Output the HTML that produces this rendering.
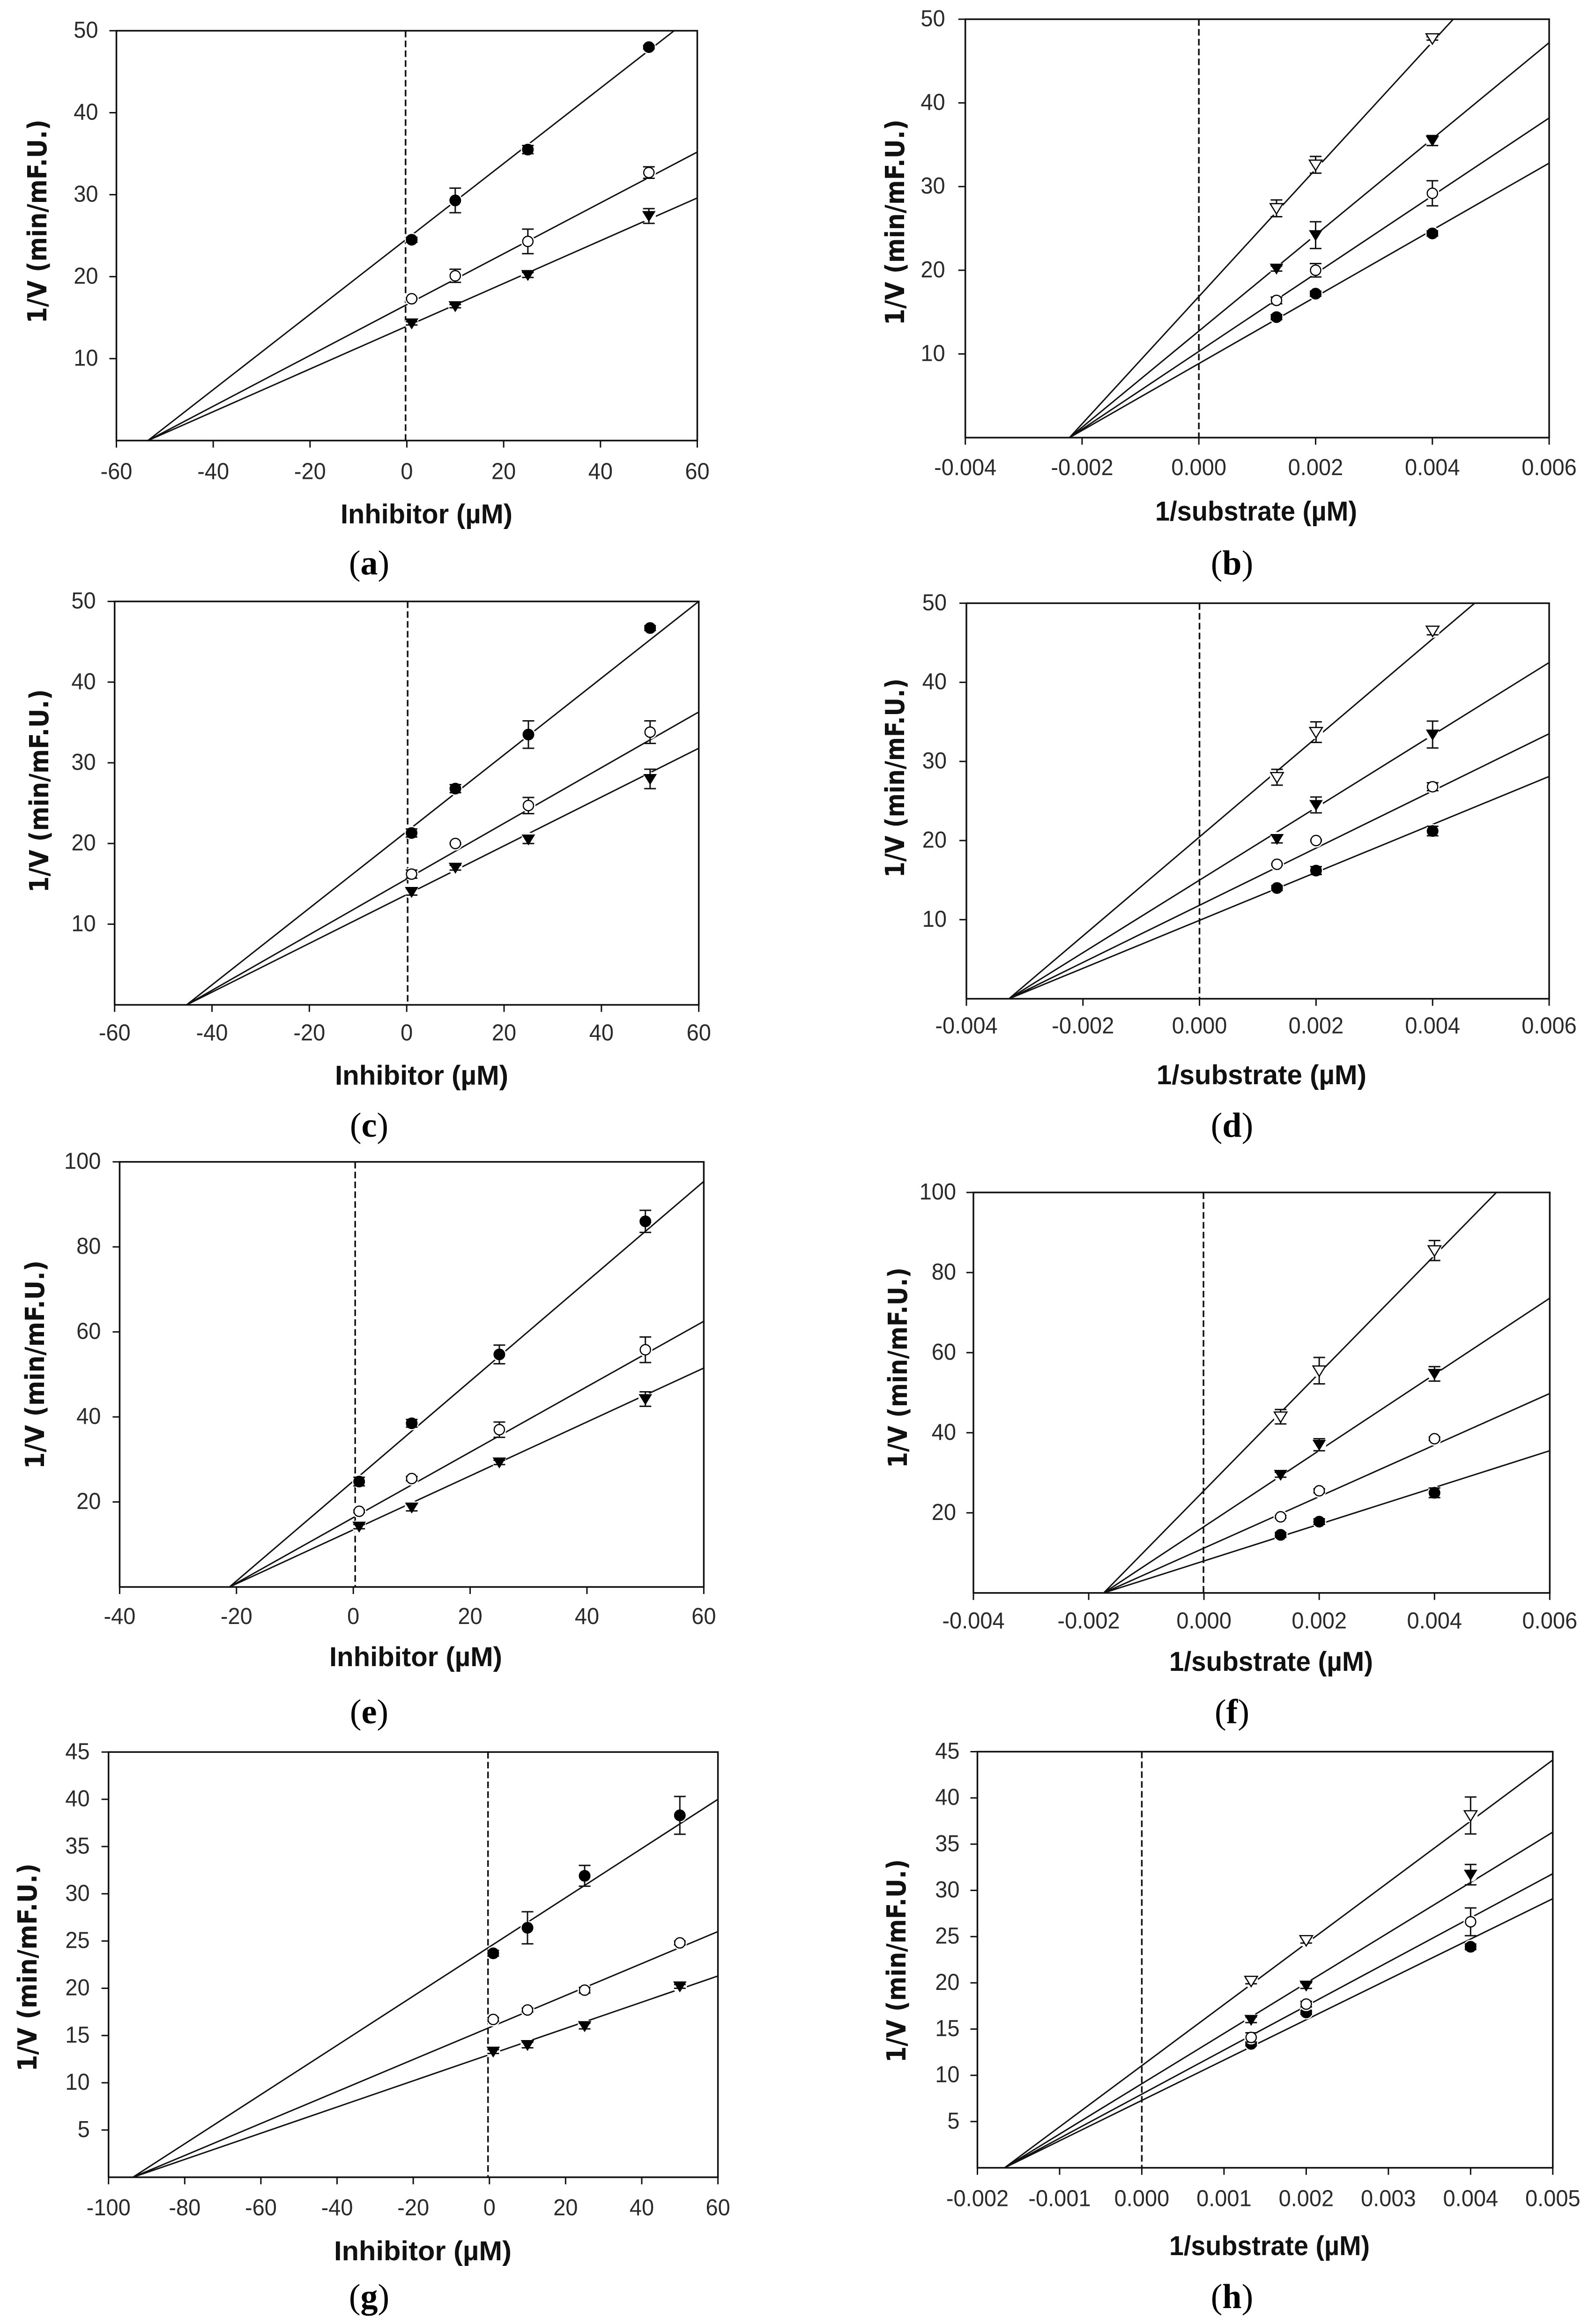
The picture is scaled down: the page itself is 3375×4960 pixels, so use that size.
<!DOCTYPE html>
<html lang="en">
<head>
<meta charset="utf-8">
<title>Enzyme inhibition kinetics, panels a to h</title>
<style>
  html, body { margin: 0; padding: 0; background: #fff; }
  #figure { display: block; width: 3375px; height: 4960px; background: #fff; }
  .tick-label { font-family: "Liberation Sans", Arial, sans-serif; font-size: 49px; fill: #2a2a2a; }
  .x-axis-title { font-family: "Liberation Sans", Arial, sans-serif; font-weight: 700; font-size: 58px; fill: #111; white-space: pre; }
  .y-axis-title { font-family: "DejaVu Sans", "Liberation Sans", sans-serif; font-weight: 700; font-size: 56px; fill: #111; white-space: pre; }
  .caption { font-family: "Liberation Serif", "Times New Roman", serif; font-size: 74px; fill: #000; }
</style>
</head>
<body>
<svg id="figure" xmlns="http://www.w3.org/2000/svg" width="3375" height="4960" viewBox="0 0 3375 4960">
  <text class="caption" x="788" y="1226" text-anchor="middle">(<tspan font-weight="700">a</tspan>)</text>
  <text class="caption" x="2630" y="1226" text-anchor="middle">(<tspan font-weight="700">b</tspan>)</text>
  <text class="caption" x="788" y="2426" text-anchor="middle">(<tspan font-weight="700">c</tspan>)</text>
  <text class="caption" x="2630" y="2426" text-anchor="middle">(<tspan font-weight="700">d</tspan>)</text>
  <text class="caption" x="788" y="3678" text-anchor="middle">(<tspan font-weight="700">e</tspan>)</text>
  <text class="caption" x="2630" y="3678" text-anchor="middle">(<tspan font-weight="700">f</tspan>)</text>
  <text class="caption" x="788" y="4926" text-anchor="middle">(<tspan font-weight="700">g</tspan>)</text>
  <text class="caption" x="2630" y="4926" text-anchor="middle">(<tspan font-weight="700">h</tspan>)</text>
</svg>
<script>
// Shared categories
const inhibitorDoses = [1, 10, 25, 50];
const substrateInverse = [0.00133, 0.002, 0.004];

// Shared tick labels
const yTicks50 = ['10', '20', '30', '40', '50'];
const yTicks100 = ['20', '40', '60', '80', '100'];
const yTicks45 = ['5', '10', '15', '20', '25', '30', '35', '40', '45'];
const xTicksInhibitor60 = ['-60', '-40', '-20', '0', '20', '40', '60'];
const xTicksInhibitor40 = ['-40', '-20', '0', '20', '40', '60'];
const xTicksInhibitor100 = ['-100', '-80', '-60', '-40', '-20', '0', '20', '40', '60'];
const xTicksSubstrate6 = ['-0.004', '-0.002', '0.000', '0.002', '0.004', '0.006'];
const xTicksSubstrate5 = ['-0.002', '-0.001', '0.000', '0.001', '0.002', '0.003', '0.004', '0.005'];

// Panel a
const aFilledCircle = [24.5, 29.3, 35.5, 48];
const aFilledCircleErr = [0.3, 1.5, 0.5, 0.2];
const aOpenCircle = [17.3, 20.1, 24.3, 32.7];
const aOpenCircleErr = [0.1, 0.8, 1.5, 0.7];
const aFilledTriangle = [14.3, 16.4, 20.2, 27.4];
const aFilledTriangleErr = [0.2, 0.2, 0.3, 0.9];
const aFitXIntercept = -53.5;
const aFitRightValues = [52.2, 35.2, 29.6];

// Panel b
const bFilledCircle = [14.4, 17.2, 24.4];
const bFilledCircleErr = [0.3, 0.3, 0.3];
const bOpenCircle = [16.4, 20, 29.2];
const bOpenCircleErr = [0.4, 0.8, 1.5];
const bFilledTriangle = [20.2, 24.2, 35.5];
const bFilledTriangleErr = [0.3, 1.6, 0.6];
const bOpenTriangle = [27.4, 32.6, 47.7];
const bOpenTriangleErr = [1, 1, 0.2];
const bFitXIntercept = -0.002216;
const bFitRightValues = [32.8, 38.2, 47.2, 62.5];

// Panel c
const cFilledCircle = [21.3, 26.8, 33.5, 46.7];
const cFilledCircleErr = [0.5, 0.5, 1.7, 0.3];
const cOpenCircle = [16.2, 20, 24.7, 33.8];
const cOpenCircleErr = [0.5, 0.1, 1, 1.4];
const cFilledTriangle = [14, 17, 20.5, 28];
const cFilledTriangleErr = [0.4, 0.3, 0.5, 1.2];
const cFitXIntercept = -45.2;
const cFitRightValues = [50, 36.3, 31.8];

// Panel d
const dFilledCircle = [14, 16.2, 21.2];
const dFilledCircleErr = [0.3, 0.5, 0.6];
const dOpenCircle = [17, 20, 26.8];
const dOpenCircleErr = [0.1, 0.1, 0.5];
const dFilledTriangle = [20.2, 24.5, 33.4];
const dFilledTriangleErr = [0.5, 1, 1.7];
const dOpenTriangle = [28, 33.7, 46.5];
const dOpenTriangleErr = [1, 1.3, 0.5];
const dFitXIntercept = -0.00327;
const dFitRightValues = [28.1, 33.5, 42.5, 58];

// Panel e
const eFilledCircle = [24.8, 38.5, 54.7, 86];
const eFilledCircleErr = [1, 0.9, 2.2, 2.6];
const eOpenCircle = [17.8, 25.5, 37, 55.8];
const eOpenCircleErr = [0.3, 0.5, 1.8, 3];
const eFilledTriangle = [14.2, 18.7, 29.3, 44.2];
const eFilledTriangleErr = [0.5, 0.8, 0.5, 1.7];
const eFitXIntercept = -21.2;
const eFitRightValues = [95.4, 62.5, 51.5];

// Panel f
const fFilledCircle = [14.5, 17.8, 25];
const fFilledCircleErr = [0.6, 0.7, 1.2];
const fOpenCircle = [19, 25.5, 38.5];
const fOpenCircleErr = [0.3, 0.5, 0.4];
const fFilledTriangle = [29.5, 37, 54.7];
const fFilledTriangleErr = [0.6, 1.5, 1.8];
const fOpenTriangle = [44, 55.5, 85.5];
const fOpenTriangleErr = [1.8, 3.3, 2.5];
const fFitXIntercept = -0.00174;
const fFitRightValues = [35.5, 49.8, 73.6, 113.6];

// Panel g
const gFilledCircle = [23.7, 26.4, 31.9, 38.3];
const gFilledCircleErr = [0.3, 1.7, 1.1, 2];
const gOpenCircle = [16.7, 17.7, 19.8, 24.8];
const gOpenCircleErr = [0.2, 0.2, 0.3, 0.2];
const gFilledTriangle = [13.3, 14, 16, 20.2];
const gFilledTriangleErr = [0.2, 0.3, 0.3, 0.2];
const gFitXIntercept = -93.6;
const gFitRightValues = [40, 26, 21.3];

// Panel h
const hFilledCircle = [13.4, 16.8, 23.9];
const hFilledCircleErr = [0.2, 0.2, 0.3];
const hOpenCircle = [14.1, 17.7, 26.6];
const hOpenCircleErr = [0.5, 0.3, 1.5];
const hFilledTriangle = [16, 19.7, 31.7];
const hFilledTriangleErr = [0.3, 0.3, 1.1];
const hOpenTriangle = [20.2, 24.6, 38.1];
const hOpenTriangleErr = [0.3, 0.3, 2];
const hFitXIntercept = -0.00167;
const hFitRightValues = [29.1, 31.8, 36.3, 44.1];

const panels = [
  { id: 'a', xValues: inhibitorDoses, xTicks: xTicksInhibitor60, yTicks: yTicks50, xTitle: 'Inhibitor (µM)', fitX: aFitXIntercept, fitRight: aFitRightValues,
    series: [['filled-circle', aFilledCircle, aFilledCircleErr], ['open-circle', aOpenCircle, aOpenCircleErr], ['filled-triangle', aFilledTriangle, aFilledTriangleErr]] },
  { id: 'b', xValues: substrateInverse, xTicks: xTicksSubstrate6, yTicks: yTicks50, xTitle: '1/substrate (µM)', fitX: bFitXIntercept, fitRight: bFitRightValues,
    series: [['filled-circle', bFilledCircle, bFilledCircleErr], ['open-circle', bOpenCircle, bOpenCircleErr], ['filled-triangle', bFilledTriangle, bFilledTriangleErr], ['open-triangle', bOpenTriangle, bOpenTriangleErr]] },
  { id: 'c', xValues: inhibitorDoses, xTicks: xTicksInhibitor60, yTicks: yTicks50, xTitle: 'Inhibitor (µM)', fitX: cFitXIntercept, fitRight: cFitRightValues,
    series: [['filled-circle', cFilledCircle, cFilledCircleErr], ['open-circle', cOpenCircle, cOpenCircleErr], ['filled-triangle', cFilledTriangle, cFilledTriangleErr]] },
  { id: 'd', xValues: substrateInverse, xTicks: xTicksSubstrate6, yTicks: yTicks50, xTitle: '1/substrate (µM)', fitX: dFitXIntercept, fitRight: dFitRightValues,
    series: [['filled-circle', dFilledCircle, dFilledCircleErr], ['open-circle', dOpenCircle, dOpenCircleErr], ['filled-triangle', dFilledTriangle, dFilledTriangleErr], ['open-triangle', dOpenTriangle, dOpenTriangleErr]] },
  { id: 'e', xValues: inhibitorDoses, xTicks: xTicksInhibitor40, yTicks: yTicks100, xTitle: 'Inhibitor (µM)', fitX: eFitXIntercept, fitRight: eFitRightValues,
    series: [['filled-circle', eFilledCircle, eFilledCircleErr], ['open-circle', eOpenCircle, eOpenCircleErr], ['filled-triangle', eFilledTriangle, eFilledTriangleErr]] },
  { id: 'f', xValues: substrateInverse, xTicks: xTicksSubstrate6, yTicks: yTicks100, xTitle: '1/substrate (µM)', fitX: fFitXIntercept, fitRight: fFitRightValues,
    series: [['filled-circle', fFilledCircle, fFilledCircleErr], ['open-circle', fOpenCircle, fOpenCircleErr], ['filled-triangle', fFilledTriangle, fFilledTriangleErr], ['open-triangle', fOpenTriangle, fOpenTriangleErr]] },
  { id: 'g', xValues: inhibitorDoses, xTicks: xTicksInhibitor100, yTicks: yTicks45, xTitle: 'Inhibitor (µM)', fitX: gFitXIntercept, fitRight: gFitRightValues,
    series: [['filled-circle', gFilledCircle, gFilledCircleErr], ['open-circle', gOpenCircle, gOpenCircleErr], ['filled-triangle', gFilledTriangle, gFilledTriangleErr]] },
  { id: 'h', xValues: substrateInverse, xTicks: xTicksSubstrate5, yTicks: yTicks45, xTitle: '1/substrate (µM)', fitX: hFitXIntercept, fitRight: hFitRightValues,
    series: [['filled-circle', hFilledCircle, hFilledCircleErr], ['open-circle', hOpenCircle, hOpenCircleErr], ['filled-triangle', hFilledTriangle, hFilledTriangleErr], ['open-triangle', hOpenTriangle, hOpenTriangleErr]] }
];

// Page layout only (pixels), kept apart from the data above
const frames = {
  a: { l: 248.5,  r: 1488.5, t: 65.6,   b: 940.3,  zeroNudge: -2.7, xLabelGap: 82, yLabelGap: 39, yTitleX: 99,   yTitleTop: 255,  yTitleLen: 435, xTitleL: 727,  xTitleLen: 367, xTitleY: 1117 },
  b: { l: 2060.7, r: 3307,   t: 41,     b: 934,    zeroNudge: 0,    xLabelGap: 80, yLabelGap: 43, yTitleX: 1930, yTitleTop: 255,  yTitleLen: 439, xTitleL: 2466, xTitleLen: 431, xTitleY: 1111 },
  c: { l: 244.7,  r: 1491.7, t: 1283.6, b: 2144.6, zeroNudge: 2,    xLabelGap: 76, yLabelGap: 40, yTitleX: 103,  yTitleTop: 1471, yTitleLen: 434, xTitleL: 715,  xTitleLen: 370, xTitleY: 2315 },
  d: { l: 2063,   r: 3307,   t: 1287.4, b: 2131.6, zeroNudge: 0,    xLabelGap: 74, yLabelGap: 42, yTitleX: 1930, yTitleTop: 1448, yTitleLen: 425, xTitleL: 2469, xTitleLen: 448, xTitleY: 2314 },
  e: { l: 255.4,  r: 1502.4, t: 2479.7, b: 3387,   zeroNudge: 4,    xLabelGap: 79, yLabelGap: 40, yTitleX: 94,   yTitleTop: 2690, yTitleLen: 445, xTitleL: 703,  xTitleLen: 369, xTitleY: 3556 },
  f: { l: 2078,   r: 3308.3, t: 2545,   b: 3399.7, zeroNudge: -1,   xLabelGap: 76, yLabelGap: 37, yTitleX: 1936, yTitleTop: 2705, yTitleLen: 428, xTitleL: 2496, xTitleLen: 435, xTitleY: 3566 },
  g: { l: 231.7,  r: 1532.6, t: 3739.3, b: 4646.8, zeroNudge: -3,   xLabelGap: 81, yLabelGap: 40, yTitleX: 78,   yTitleTop: 3977, yTitleLen: 444, xTitleL: 713,  xTitleLen: 379, xTitleY: 4824 },
  h: { l: 2086.5, r: 3314.8, t: 3738.5, b: 4626.6, zeroNudge: 0,    xLabelGap: 82, yLabelGap: 38, yTitleX: 1933, yTitleTop: 3968, yTitleLen: 434, xTitleL: 2496, xTitleLen: 428, xTitleY: 4813 }
};

const SVGNS = 'http://www.w3.org/2000/svg';
const root = document.getElementById('figure');

function make(tag, parent, attrs, text) {
  const el = document.createElementNS(SVGNS, tag);
  for (const k in attrs) el.setAttribute(k, attrs[k]);
  if (text !== undefined) el.textContent = text;
  parent.appendChild(el);
  return el;
}

// Tick glyphs in the reference are tall and narrow: 49px height with 47px advance widths.
function tickLength(label) {
  let em = 0;
  for (const ch of label) em += ch === '-' ? 0.333 : ch === '.' ? 0.278 : 0.556;
  return em * 47;
}

function drawPanel(p) {
  const f = frames[p.id];
  const xMin = Number(p.xTicks[0]);
  const xMax = Number(p.xTicks[p.xTicks.length - 1]);
  const yMax = Number(p.yTicks[p.yTicks.length - 1]);
  const xScale = v => f.l + (v - xMin) / (xMax - xMin) * (f.r - f.l);
  const yScale = v => f.b - v / yMax * (f.b - f.t);

  const g = make('g', root, {});
  
  

  const defs = make('defs', g, {});
  const clip = make('clipPath', defs, { id: 'clip-' + p.id });
  make('rect', clip, { x: f.l, y: f.t, width: f.r - f.l, height: f.b - f.t });

  const frame = make('rect', g, { x: f.l, y: f.t, width: f.r - f.l, height: f.b - f.t, fill: 'none', stroke: '#111', 'stroke-width': 3.5 });
  
  

  p.xTicks.forEach(label => {
    const v = Number(label);
    const x = xScale(v);
    const tick = make('line', g, { x1: x, x2: x, y1: f.b, y2: f.b + 15, stroke: '#111', 'stroke-width': 3 });
    
    
    const text = make('text', g, { class: 'tick-label', x: x, y: f.b + f.xLabelGap, 'text-anchor': 'middle', textLength: tickLength(label), lengthAdjust: 'spacingAndGlyphs' }, label);
    
    
  });

  p.yTicks.forEach(label => {
    const y = yScale(Number(label));
    const tick = make('line', g, { x1: f.l - 15, x2: f.l, y1: y, y2: y, stroke: '#111', 'stroke-width': 3 });
    
    
    const text = make('text', g, { class: 'tick-label', x: f.l - f.yLabelGap, y: y + 15, 'text-anchor': 'end', textLength: tickLength(label), lengthAdjust: 'spacingAndGlyphs' }, label);
    
    
  });

  const yc = f.yTitleTop + f.yTitleLen / 2;
  const yTitle = make('text', g, {
    class: 'y-axis-title', x: f.yTitleX, y: yc, 'text-anchor': 'middle',
    transform: 'rotate(-90 ' + f.yTitleX + ' ' + yc + ')',
    textLength: f.yTitleLen, lengthAdjust: 'spacingAndGlyphs'
  }, '1/V (min/mF.U.)');
  
  

  const xTitle = make('text', g, {
    class: 'x-axis-title', x: f.xTitleL, y: f.xTitleY,
    textLength: f.xTitleLen, lengthAdjust: 'spacingAndGlyphs'
  }, p.xTitle);
  
  

  const zx = xScale(0) + f.zeroNudge;
  const zero = make('line', g, { x1: zx, x2: zx, y1: f.t, y2: f.b, stroke: '#111', 'stroke-width': 3.5, 'stroke-dasharray': '14 7' });
  
  

  const fits = make('g', g, { 'clip-path': 'url(#clip-' + p.id + ')' });
  
  
  p.fitRight.forEach(v => {
    const fit = make('line', fits, { x1: xScale(p.fitX), y1: yScale(0), x2: xScale(xMax), y2: yScale(v), stroke: '#111', 'stroke-width': 3 });
    
    
  });

  p.series.forEach(s => {
    const kind = s[0], values = s[1], errors = s[2];
    const sg = make('g', g, {});
    
    
    values.forEach((v, i) => {
      const cx = xScale(p.xValues[i]);
      const cy = yScale(v);
      const hi = yScale(v + errors[i]);
      const lo = yScale(v - errors[i]);
      const halo = make('circle', sg, { cx: cx, cy: cy, r: 15, fill: '#fff' });
      
      
      const bar = make('path', sg, {
        d: 'M' + (cx - 12.5) + ' ' + hi + 'H' + (cx + 12.5) + 'M' + cx + ' ' + hi + 'V' + lo + 'M' + (cx - 12.5) + ' ' + lo + 'H' + (cx + 12.5),
        fill: 'none', stroke: '#111', 'stroke-width': 3
      });
      
      
      const isOpen = kind.indexOf('open') === 0;
      const fill = isOpen ? '#fff' : '#000';
      let mark;
      if (kind.indexOf('circle') >= 0) {
        mark = make('circle', sg, { cx: cx, cy: cy, r: isOpen ? 11 : 12, fill: fill, stroke: '#000', 'stroke-width': isOpen ? 2.5 : 1 });
      } else {
        const pts = [[cx - 13.5, cy - 10], [cx + 13.5, cy - 10], [cx, cy + 12]].map(q => q.join(',')).join(' ');
        mark = make('polygon', sg, { points: pts, fill: fill, stroke: '#000', 'stroke-width': isOpen ? 2.5 : 1 });
      }
      
      
    });
  });
}

panels.forEach(drawPanel);
</script>
</body>
</html>
